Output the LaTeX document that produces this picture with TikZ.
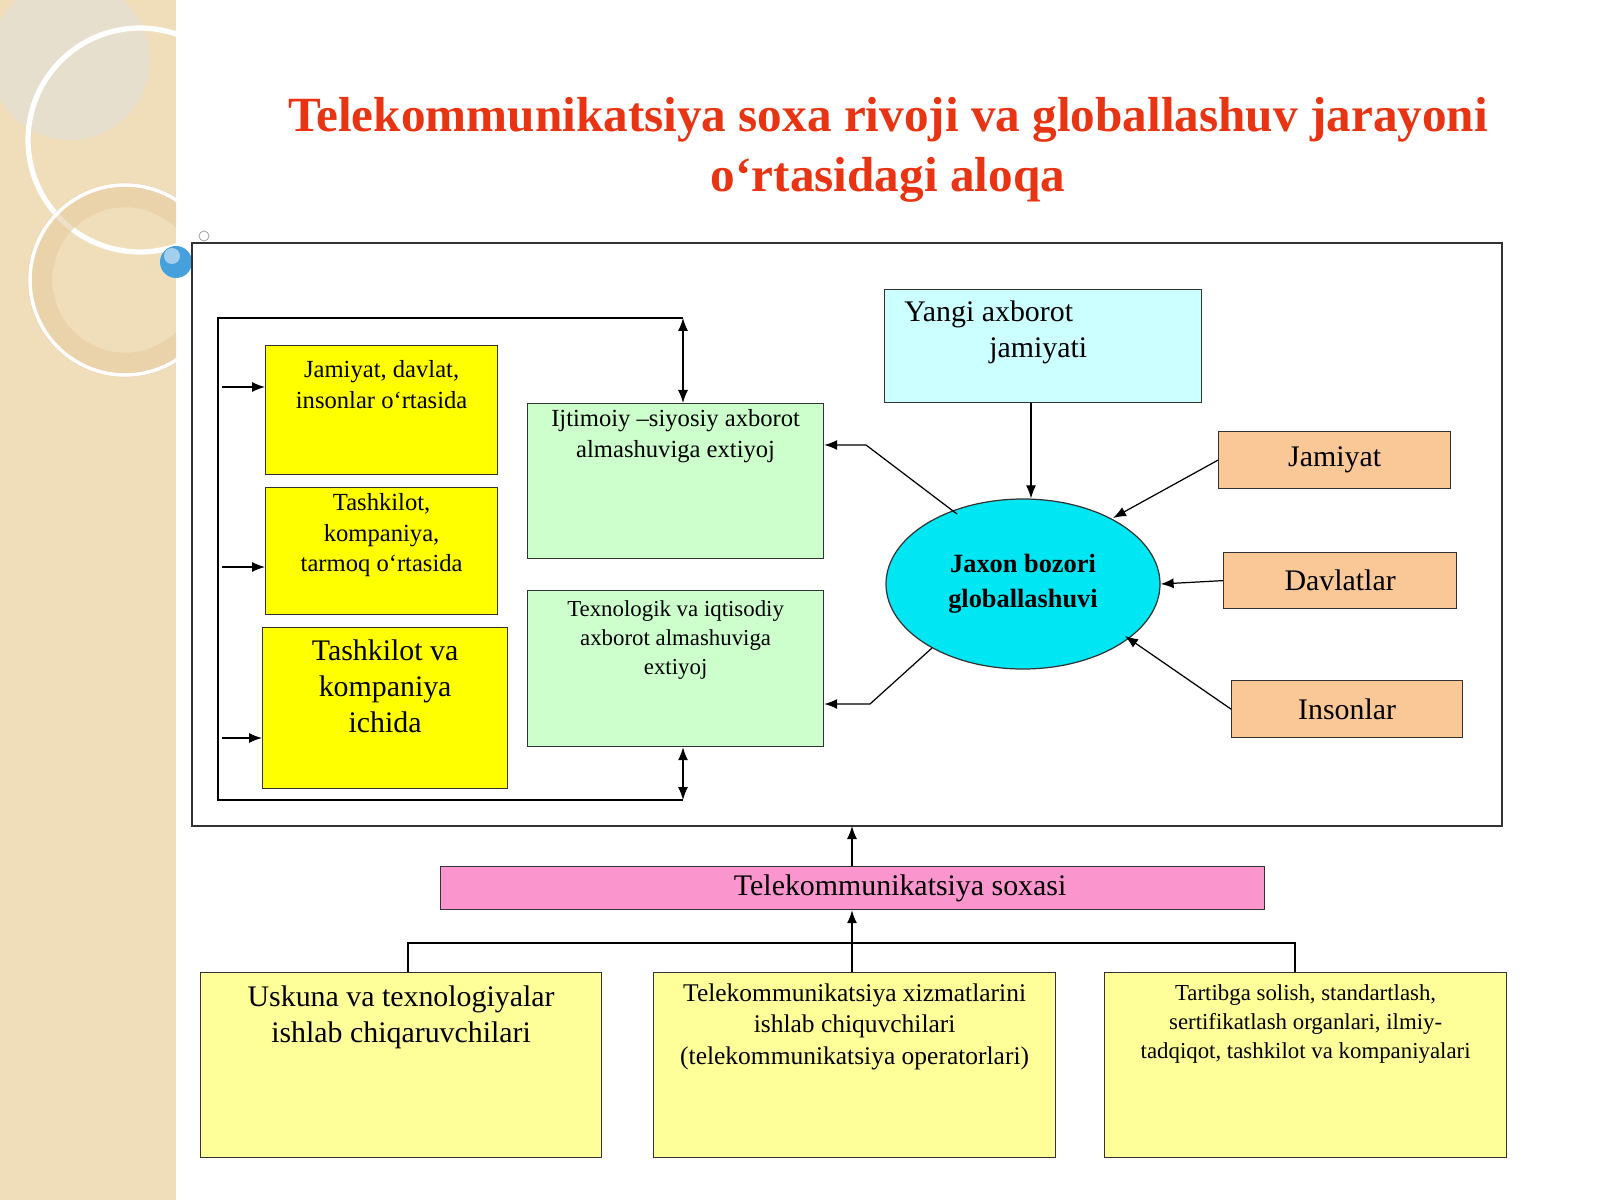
\documentclass[tikz,border=0pt]{standalone}
\usepackage{fontspec}
\setmainfont{Liberation Serif}
\usetikzlibrary{positioning,shapes.geometric,arrows.meta}
\definecolor{strip}{RGB}{240,222,186}
\definecolor{titlered}{RGB}{232,52,18}
\definecolor{yel}{RGB}{255,255,0}
\definecolor{paleyel}{RGB}{255,255,153}
\definecolor{lgreen}{RGB}{204,255,204}
\definecolor{lcyan}{RGB}{204,255,255}
\definecolor{ecyan}{RGB}{0,230,242}
\definecolor{orng}{RGB}{250,200,150}
\definecolor{pnk}{RGB}{250,150,205}
\definecolor{ballblue}{RGB}{70,160,220}
\tikzset{
  box/.style={draw=black!80,line width=0.7pt,anchor=north west,inner sep=0pt},
  txt/.style={align=center,inner sep=0pt,anchor=north},
  arr/.style={-{Latex[length=2.6mm,width=2mm]},line width=0.7pt},
  darr/.style={{Latex[length=2.6mm,width=2mm]}-{Latex[length=2.6mm,width=2mm]},line width=0.7pt},
  ln/.style={line width=0.7pt}
}
\begin{document}
\begin{tikzpicture}[x=0.2mm,y=-0.2mm]
	\useasboundingbox (0,0) rectangle (1600,1200);
	% left strip
	\begin{scope}
	\clip (0,0) rectangle (176,1200);
	\fill[strip] (0,0) rectangle (176,1200);
	\fill[black!12,opacity=0.5] (70,60) circle (80);
	\draw[white,line width=3pt] (140,140) circle (112);
	\draw[strip!80!brown,line width=14pt,opacity=0.6] (125,280) circle (85);
	\draw[white,line width=2pt] (125,280) circle (95);
	\end{scope}
	\fill[ballblue] (176,262) circle (16);
	\fill[white,opacity=0.5] (172,256) circle (8);
	\draw[black!40] (204,236) circle (5);
	% title
	\node[txt,text=titlered,font=\fontsize{28}{34}\selectfont\bfseries] (title) at (888,97)
		{Telekommunikatsiya soxa rivoji va globallashuv jarayoni\\o‘rtasidagi aloqa};
	% frame
	\draw[line width=0.8pt,black!80] (192,243) rectangle (1502,826);
	% yellow boxes
	\node[box,fill=yel,minimum width=46.4mm,minimum height=25.8mm] (ja) at (265,345) {};
	\node[txt,font=\fontsize{14}{17.5}\selectfont] at ([yshift=-3mm]ja.north) {Jamiyat, davlat,\\insonlar o‘rtasida};
	\node[box,fill=yel,minimum width=46.4mm,minimum height=25.4mm] (ta) at (265,487) {};
	\node[txt,font=\fontsize{14}{17.5}\selectfont] at ([yshift=-1.2mm]ta.north) {Tashkilot,\\kompaniya,\\tarmoq o‘rtasida};
	\node[box,fill=yel,minimum width=49mm,minimum height=32.2mm] (tk) at (262,627) {};
	\node[txt,font=\fontsize{17}{20.5}\selectfont] at ([yshift=-2.4mm]tk.north) {Tashkilot va\\kompaniya\\ichida};
	% green boxes
	\node[box,fill=lgreen,minimum width=59.2mm,minimum height=31mm] (ij) at (527,403) {};
	\node[txt,font=\fontsize{14}{17.5}\selectfont] at ([yshift=-1.2mm]ij.north) {Ijtimoiy –siyosiy axborot\\almashuviga extiyoj};
	\node[box,fill=lgreen,minimum width=59.2mm,minimum height=31.2mm] (te) at (527,590) {};
	\node[txt,font=\fontsize{13}{16.5}\selectfont] at ([yshift=-2mm]te.north) {Texnologik va iqtisodiy\\axborot almashuviga\\extiyoj};
	% right side
	\node[box,fill=lcyan,minimum width=63.4mm,minimum height=22.6mm] (ya) at (884,289) {};
	\node[txt,anchor=north west,align=left,font=\fontsize{17}{21}\selectfont] at ([xshift=4mm,yshift=-2.2mm]ya.north west) {Yangi axborot\\\hspace*{17mm}jamiyati};
	\node[ellipse,draw=black!80,line width=0.7pt,fill=ecyan,minimum width=54.8mm,minimum height=34mm,
		align=center,font=\fontsize{15}{20}\selectfont\bfseries] (jb) at (1023,584) {Jaxon bozori\\globallashuvi};
	\node[box,fill=orng,minimum width=46.4mm,minimum height=11.4mm] (jm) at (1218,431) {};
	\node[font=\fontsize{17}{20}\selectfont] at (jm.center) {Jamiyat};
	\node[box,fill=orng,minimum width=46.6mm,minimum height=11.2mm] (dv) at (1223,552) {};
	\node[font=\fontsize{17}{20}\selectfont] at (dv.center) {Davlatlar};
	\node[box,fill=orng,minimum width=46.2mm,minimum height=11.4mm] (in) at (1231,680) {};
	\node[font=\fontsize{17}{20}\selectfont] at (in.center) {Insonlar};
	% bottom
	\node[box,fill=pnk,minimum width=164.8mm,minimum height=8.6mm] (ts) at (440,866) {};
	\node[font=\fontsize{17}{20}\selectfont] at ([xshift=9.5mm]ts.center) {Telekommunikatsiya soxasi};
	\node[box,fill=paleyel,minimum width=80.2mm,minimum height=37mm] (us) at (200,972) {};
	\node[txt,font=\fontsize{17}{21}\selectfont] at ([yshift=-2.6mm]us.north) {Uskuna va texnologiyalar\\ishlab chiqaruvchilari};
	\node[box,fill=paleyel,minimum width=80.4mm,minimum height=37mm] (tx) at (653,972) {};
	\node[txt,font=\fontsize{14.5}{18}\selectfont] at ([yshift=-2.2mm]tx.north) {Telekommunikatsiya xizmatlarini\\ishlab chiquvchilari\\(telekommunikatsiya operatorlari)};
	\node[box,fill=paleyel,minimum width=80.4mm,minimum height=37mm] (ta2) at (1104,972) {};
	\node[txt,font=\fontsize{13}{16.5}\selectfont] at ([yshift=-2.4mm]ta2.north) {Tartibga solish, standartlash,\\sertifikatlash organlari, ilmiy-\\tadqiqot, tashkilot va kompaniyalari};
	% left loop
	\coordinate (lt) at (218,318);
	\coordinate (lb) at (218,800);
	\coordinate (tt) at (683,318);
	\coordinate (bb) at (683,800);
	\draw[ln] (tt) -- (lt) -- (lb) -- (bb);
	\draw[darr] (tt) -- (ij.north -| tt);
	\draw[darr] (te.south -| bb) -- (bb);
	\foreach \b/\y in {ja/387,ta/567,tk/738}
		\draw[arr] (222,\y) -- (\b.west |- 0,\y);
	% right connectors
	\draw[arr] (ya.south -| 1031,0) -- (jb.north -| 1031,0);
	\draw[arr] (jm.west) -- (1113,518);
	\draw[arr] (dv.west) -- (jb.east);
	\draw[arr] (in.west) -- (1125,636);
	\coordinate (k1) at (866,445);
	\coordinate (k2) at (870,704);
	\draw[arr] (957,514) -- (k1) -- (ij.east |- k1);
	\draw[arr] (932,648) -- (k2) -- (te.east |- k2);
	% tree
	\draw[arr] (ts.north -| 852,0) -- (852,826);
	\draw[ln] (us.north -| 408,0) -- (408,943) -- (1295,943) -- (ta2.north -| 1295,0);
	\draw[arr] (tx.north -| 852,0) -- (ts.south -| 852,0);
\end{tikzpicture}
\end{document}
